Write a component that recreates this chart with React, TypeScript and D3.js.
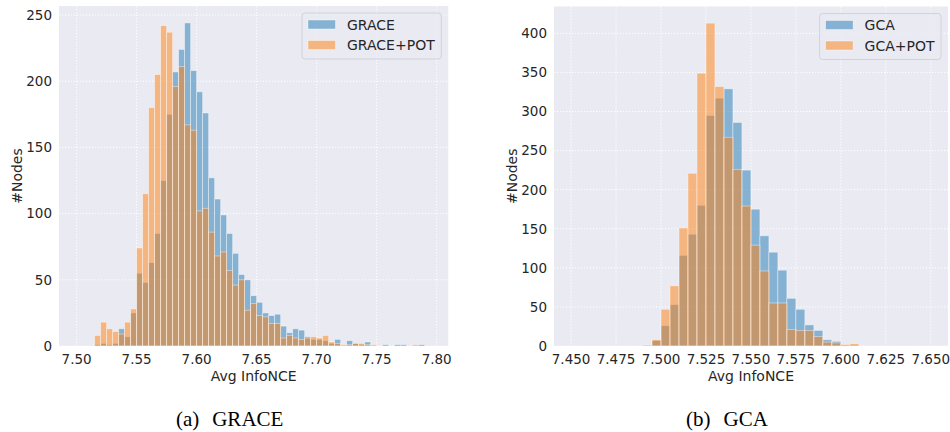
import * as d3 from 'd3';

// bin width shared by every histogram
const BIN_WIDTH = 0.005;

// ---- (a) GRACE ----
const graceBinStart = 7.515;
const graceCounts = [
    1, 2, 1, 2, 13, 7, 25, 55, 48, 63, 85, 125, 175, 207, 224, 244, 208, 192, 176, 127,
    111, 99, 85, 70, 54, 50, 38, 33, 25, 23, 24, 15, 10, 13, 12, 7, 5, 5, 4, 2,
    5, 0, 4, 2, 1, 3, 0, 0, 1, 0, 1, 1, 0, 0, 1,
];
const gracePotCounts = [
    8, 18, 13, 11, 9, 18, 28, 74, 115, 180, 205, 242, 237, 196, 211, 167, 163, 102, 104, 86,
    68, 71, 57, 46, 50, 27, 32, 23, 22, 17, 17, 6, 8, 6, 5, 6, 7, 6, 8, 3,
    2, 1, 1, 2, 2, 1, 1, 0, 0, 0, 0, 0, 0, 1, 0,
];
const graceXTicks = [7.5, 7.55, 7.6, 7.65, 7.7, 7.75, 7.8];
const graceYTicks = [0, 50, 100, 150, 200, 250];

// ---- (b) GCA ----
const gcaBinStart = 7.49;
const gcaCounts = [
    1, 7, 26, 53, 116, 143, 180, 295, 317, 329, 286, 225, 175, 141, 120, 97, 61, 47, 27, 20,
    8, 6, 1, 1,
];
const gcaPotCounts = [
    0, 8, 47, 77, 151, 221, 349, 413, 332, 267, 226, 179, 129, 96, 55, 55, 21, 20, 20, 12,
    5, 4, 2, 3,
];
const gcaXTicks = [7.45, 7.475, 7.5, 7.525, 7.55, 7.575, 7.6, 7.625, 7.65];
const gcaYTicks = [0, 50, 100, 150, 200, 250, 300, 350, 400];

const BLUE = '#1f77b4';
const ORANGE = '#ff7f0e';
const BG = '#eaeaf2';
const SANS = 'DejaVu Sans, sans-serif';
const SERIF = 'Liberation Serif, Times New Roman, serif';

type Series = { label: string; color: string; start: number; counts: number[] };

type PanelProps = {
    x0: number;
    x1: number;
    y0: number;
    y1: number;
    xDomain: [number, number];
    yMax: number;
    xTicks: number[];
    yTicks: number[];
    xFormat: string;
    series: Series[];
    legendWidth: number;
    caption: [string, string];
};

const Panel = ({ x0, x1, y0, y1, xDomain, yMax, xTicks, yTicks, xFormat, series, legendWidth, caption }: PanelProps) => {
    const xScale = d3.scaleLinear().domain(xDomain).range([x0, x1]);
    const yScale = d3.scaleLinear().domain([0, yMax]).range([y1, y0]);
    const fmt = d3.format(xFormat);

    const grid = (
        <g stroke="#ffffff" strokeWidth={1} strokeDasharray="1.2,1.8">
            {xTicks.map((t, i) => (
                <line key={'x' + i} x1={xScale(t)} x2={xScale(t)} y1={y0} y2={y1} />
            ))}
            {yTicks.map((t, i) => (
                <line key={'y' + i} x1={x0} x2={x1} y1={yScale(t)} y2={yScale(t)} />
            ))}
        </g>
    );

    // blue drawn first, orange on top (matplotlib order)
    const bars = series.map((s, si) => (
        <g key={si} fill={s.color} fillOpacity={0.5} stroke="#ffffff" strokeOpacity={0.5} strokeWidth={0.8}>
            {s.counts.map((c, i) => {
                if (c <= 0) return null;
                const a = xScale(s.start + i * BIN_WIDTH);
                const b = xScale(s.start + (i + 1) * BIN_WIDTH);
                return <rect key={i} x={a} y={yScale(c)} width={b - a} height={y1 - yScale(c)} />;
            })}
        </g>
    ));

    const lx = x1 - 7 - legendWidth;
    const ly = y0 + 7;
    const legend = (
        <g>
            <rect x={lx} y={ly} width={legendWidth} height={46} rx={3} fill={BG} fillOpacity={0.8} stroke="#d2d2d8" strokeWidth={1} />
            {series.map((s, i) => (
                <g key={i}>
                    <rect x={lx + 6} y={ly + 7 + i * 20.5} width={27.5} height={9} fill={s.color} fillOpacity={0.5} stroke="#ffffff" strokeOpacity={0.5} strokeWidth={0.8} />
                    <text x={lx + 45} y={ly + 16.5 + i * 20.5} fontSize={14} fontFamily={SANS} fill="#262626">
                        {s.label}
                    </text>
                </g>
            ))}
        </g>
    );

    const cx = (x0 + x1) / 2;

    return (
        <g>
            <rect x={x0} y={y0} width={x1 - x0} height={y1 - y0} fill={BG} />
            {grid}
            {bars}
            {legend}
            {yTicks.map((t, i) => (
                <text key={i} x={x0 - 7} y={yScale(t)} dy="0.36em" textAnchor="end" fontSize={13.5} fontFamily={SANS} fill="#262626">
                    {t}
                </text>
            ))}
            {xTicks.map((t, i) => (
                <text key={i} x={xScale(t)} y={364} textAnchor="middle" fontSize={13.5} fontFamily={SANS} fill="#262626">
                    {fmt(t)}
                </text>
            ))}
            <text x={cx} y={381} textAnchor="middle" fontSize={14} fontFamily={SANS} fill="#262626">
                Avg InfoNCE
            </text>
            <text
                transform={`translate(${x0 - 37},${(y0 + y1) / 2}) rotate(-90)`}
                textAnchor="middle"
                fontSize={14}
                fontFamily={SANS}
                fill="#262626"
            >
                #Nodes
            </text>
            <text x={cx - 24} y={425.5} textAnchor="middle" fontSize={21} fontFamily={SERIF} fill="#000">
                {caption[0]}
                <tspan dx={13}>{caption[1]}</tspan>
            </text>
        </g>
    );
};

export default function App() {
    return (
        <div style={{ position: 'absolute', left: 0, top: 0 }}>
            <svg width={950} height={432} style={{ display: 'block', background: '#fff' }}>
                <Panel
                    x0={59}
                    x1={448.3}
                    y0={6}
                    y1={346}
                    xDomain={[7.4853, 7.8097]}
                    yMax={256.8}
                    xTicks={graceXTicks}
                    yTicks={graceYTicks}
                    xFormat=".2f"
                    series={[
                        { label: 'GRACE', color: BLUE, start: graceBinStart, counts: graceCounts },
                        { label: 'GRACE+POT', color: ORANGE, start: graceBinStart, counts: gracePotCounts },
                    ]}
                    legendWidth={139.3}
                    caption={['(a)', 'GRACE']}
                />
                <Panel
                    x0={554}
                    x1={948}
                    y0={6.5}
                    y1={346}
                    xDomain={[7.4405, 7.6596]}
                    yMax={434.3}
                    xTicks={gcaXTicks}
                    yTicks={gcaYTicks}
                    xFormat=".3f"
                    series={[
                        { label: 'GCA', color: BLUE, start: gcaBinStart, counts: gcaCounts },
                        { label: 'GCA+POT', color: ORANGE, start: gcaBinStart, counts: gcaPotCounts },
                    ]}
                    legendWidth={121.4}
                    caption={['(b)', 'GCA']}
                />
            </svg>
        </div>
    );
}
